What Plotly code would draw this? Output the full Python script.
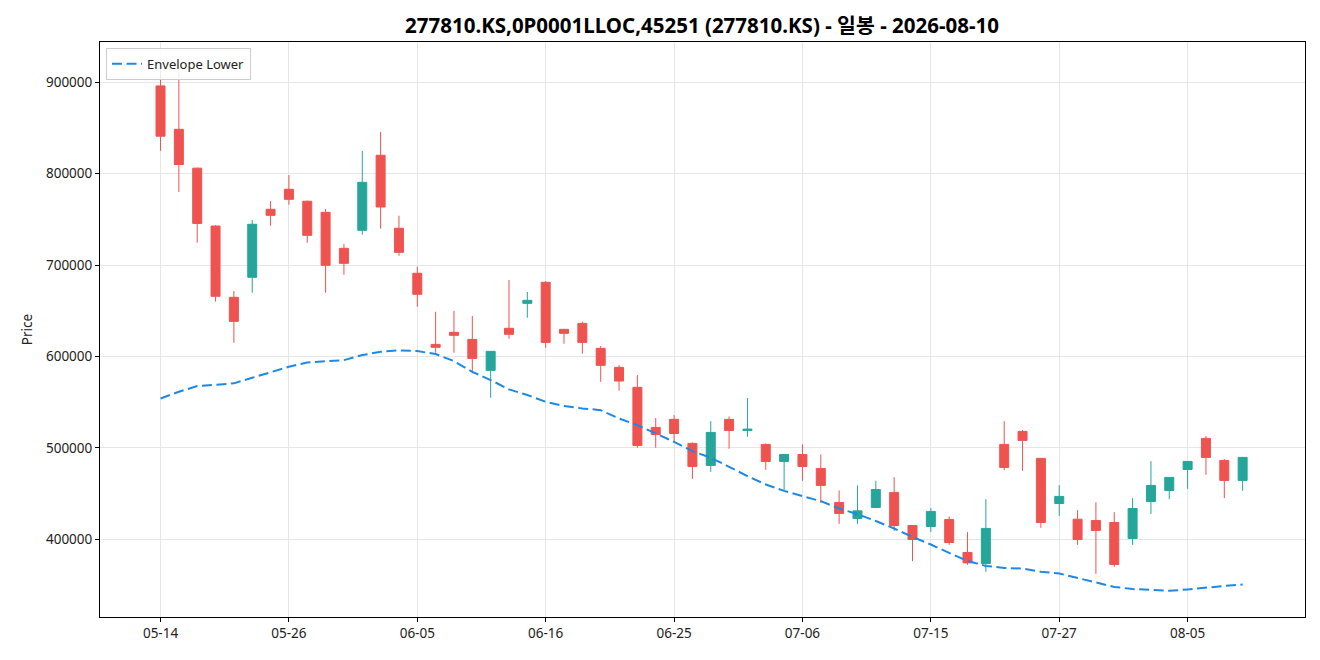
import plotly.graph_objects as go

# ── Data ────────────────────────────────────────────────────────────────────
dates = [
    "05-14", "05-15", "05-18", "05-19", "05-20", "05-21", "05-22", "05-26", "05-27", "05-28",
    "05-29", "06-01", "06-02", "06-04", "06-05", "06-08", "06-09", "06-10", "06-11", "06-12",
    "06-15", "06-16", "06-17", "06-18", "06-19", "06-22", "06-23", "06-24", "06-25", "06-26",
    "06-29", "06-30", "07-01", "07-02", "07-03", "07-06", "07-07", "07-08", "07-09", "07-10",
    "07-13", "07-14", "07-15", "07-16", "07-17", "07-20", "07-21", "07-22", "07-23", "07-27",
    "07-28", "07-29", "07-30", "07-31", "08-03", "08-04", "08-05", "08-06", "08-07", "08-10",
]

opens = [
    896000, 848500, 806000, 742700, 664700, 686600, 761000, 782900, 769800, 757700,
    718300, 738000, 820100, 740200, 691000, 613200, 626400, 618700, 584800, 630800,
    658100, 681100, 629700, 636200, 608900, 588100, 566200, 522400, 531200, 504900,
    480800, 531200, 519100, 503800, 485200, 492800, 477500, 440300, 422800, 434800,
    451300, 415100, 414000, 421700, 385600, 373500, 503800, 518000, 488500, 439200,
    422000, 420600, 418400, 400900, 441400, 453400, 476400, 510400, 486300, 464400,
]
highs = [
    913000, 912000, 806500, 743500, 671600, 749300, 770000, 798500, 770500, 761300,
    723000, 824800, 845600, 754000, 698200, 648900, 650000, 644200, 605600, 683600,
    670500, 682500, 630000, 638000, 611400, 590600, 579600, 532600, 535900, 506000,
    529300, 534400, 554500, 504900, 493500, 503800, 492800, 453400, 458900, 464000,
    468000, 415500, 434100, 425000, 407800, 443900, 529300, 519500, 489000, 459200,
    431900, 440600, 429700, 445000, 485500, 468000, 485500, 512900, 487700, 490000,
]
lows = [
    825000, 780000, 724500, 660000, 615000, 669700, 743000, 766000, 724400, 669700,
    689400, 733200, 739800, 710200, 654400, 604000, 604000, 581500, 554800, 619400,
    642400, 609500, 613900, 603000, 572300, 562500, 500100, 500100, 507700, 466100,
    473800, 499000, 512100, 476000, 453800, 464000, 439900, 416900, 416900, 434100,
    409200, 376100, 408100, 393900, 372000, 364400, 475700, 474900, 412500, 425600,
    393900, 362200, 369800, 393900, 427800, 443900, 455200, 470500, 445000, 453000,
]
closes = [
    841000, 810000, 745500, 665800, 638400, 744600, 754400, 771900, 732500, 699700,
    701900, 790500, 763500, 713900, 668000, 610000, 623100, 597900, 605600, 624200,
    661400, 615400, 625300, 615400, 590300, 573100, 502700, 514700, 515800, 479700,
    516900, 519100, 520500, 485200, 492800, 479700, 458900, 428300, 431100, 454500,
    415100, 399800, 430500, 396500, 374200, 411900, 478600, 508200, 418400, 446900,
    399800, 409700, 372500, 433700, 458900, 467700, 485200, 489600, 464400, 489600,
]
envelope_lower = [
    554000, 561400, 567600, 569400, 570600, 576700, 582600, 588700, 593500, 594900,
    596000, 601500, 605100, 606700, 605900, 602600, 594900, 583200, 574200, 564000,
    557800, 550400, 545700, 543200, 541300, 532100, 524900, 515800, 506600, 496400,
    489200, 479300, 469100, 460000, 453000, 447200, 441700, 433700, 427500, 420000,
    411800, 402600, 394300, 385100, 376400, 370900, 368700, 368000, 364400, 362600,
    357800, 353400, 347900, 345600, 344300, 343600, 345100, 347300, 349000, 350600,
]

tick_dates = dates[::7]
y_ticks = [400000, 500000, 600000, 700000, 800000, 900000]

FONT = "Noto Sans, Noto Sans CJK KR, sans-serif"
UP_COLOR = "#26a69a"
DOWN_COLOR = "#ef5350"

# ── Figure ──────────────────────────────────────────────────────────────────
fig = go.Figure()

fig.add_trace(go.Candlestick(
    x=dates, open=opens, high=highs, low=lows, close=closes,
    increasing=dict(line=dict(color=UP_COLOR, width=1), fillcolor=UP_COLOR),
    decreasing=dict(line=dict(color=DOWN_COLOR, width=1), fillcolor=DOWN_COLOR),
    whiskerwidth=0,
    showlegend=False,
    name="Price",
))

fig.add_trace(go.Scatter(
    x=dates, y=envelope_lower, mode="lines",
    line=dict(color="#1e88e5", width=2, dash="10px,4.5px"),
    name="Envelope Lower",
))

# the page adds an 8px body margin, so the margins are shifted to compensate
fig.update_layout(
    width=1320, height=660,
    paper_bgcolor="white", plot_bgcolor="white",
    font=dict(family=FONT, size=13, color="#222"),
    margin=dict(l=92, r=23, t=34, b=51),
    title=dict(
        text="<b>277810.KS,0P0001LLOC,45251 (277810.KS) - 일봉 - 2026-08-10</b>",
        x=694 / 1320, xanchor="center", y=1 - 18 / 660, yanchor="middle",
        font=dict(family=FONT, size=20.5, color="#000"),
    ),
    legend=dict(
        x=0.005, y=0.99, xanchor="left", yanchor="top",
        bgcolor="rgba(255,255,255,0.85)", bordercolor="#cccccc", borderwidth=1,
        font=dict(size=13, color="#222"),
        tracegroupgap=0, itemwidth=30,
    ),
    xaxis=dict(
        type="category",
        range=[-3.3, 62.4],
        tickmode="array", tickvals=tick_dates, ticktext=tick_dates,
        tickfont=dict(size=13.5),
        showgrid=True, gridcolor="#e6e6e6", gridwidth=1,
        showline=True, linecolor="black", linewidth=1, mirror=True,
        ticks="outside", ticklen=4, tickcolor="black",
        rangeslider=dict(visible=False),
        zeroline=False,
    ),
    yaxis=dict(
        range=[315000, 944000],
        tickmode="array", tickvals=y_ticks, ticktext=[str(v) for v in y_ticks],
        tickfont=dict(size=13.5),
        showgrid=True, gridcolor="#e6e6e6", gridwidth=1,
        showline=True, linecolor="black", linewidth=1, mirror=True,
        ticks="outside", ticklen=4, tickcolor="black",
        title=dict(text="Price", standoff=10, font=dict(size=13.5)),
        zeroline=False,
    ),
)

fig.write_html("out.html")
